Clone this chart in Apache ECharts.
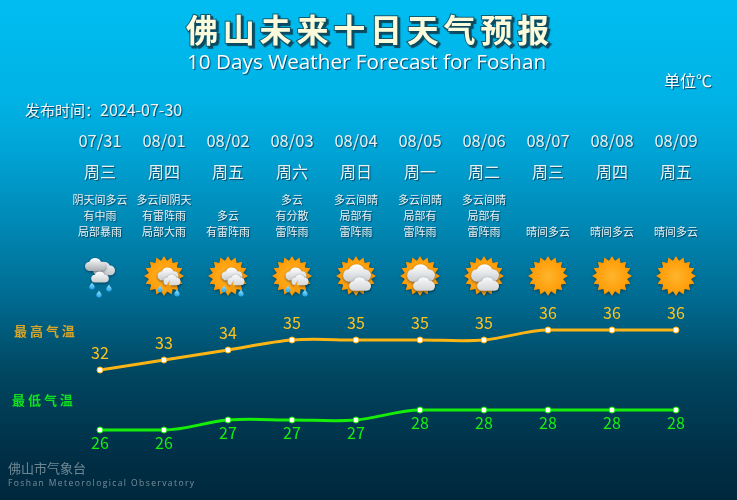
<!DOCTYPE html>
<html><head><meta charset="utf-8">
<style>html,body{margin:0;padding:0;background:#003}#c{width:737px;height:500px}</style>
<script src="https://cdn.jsdelivr.net/npm/echarts@6/dist/echarts.min.js"></script>
</head><body><div id="c"></div>
<script>
const dates=['07/31','08/01','08/02','08/03','08/04','08/05','08/06','08/07','08/08','08/09'];
const weekdays=['周三','周四','周五','周六','周日','周一','周二','周三','周四','周五'];
const descriptions=['阴天间多云\n有中雨\n局部暴雨','多云间阴天\n有雷阵雨\n局部大雨','多云\n有雷阵雨','多云\n有分散\n雷阵雨','多云间晴\n局部有\n雷阵雨','多云间晴\n局部有\n雷阵雨','多云间晴\n局部有\n雷阵雨','晴间多云','晴间多云','晴间多云'];
const iconKinds=['rain','storm','storm','storm','suncloud','suncloud','suncloud','sun','sun','sun'];
const highs=[32,33,34,35,35,35,35,36,36,36];
const lows=[26,26,27,27,27,28,28,28,28,28];
const titleCn='佛山未来十日天气预报';
const titleEn='10 Days Weather Forecast for Foshan';
const footerEn='Foshan Meteorological Observatory';
const CJK='"Noto Sans CJK SC","Noto Sans",sans-serif';
const chart=echarts.init(document.getElementById('c'),null,{renderer:'canvas'});
const spaced=(s,sep)=>s.split('').join(sep);

function star(cx,cy,R,r,n){const p=[];for(let i=0;i<n*2;i++){const a=Math.PI*i/n-Math.PI/2,q=i%2?r:R;p.push([cx+q*Math.cos(a),cy+q*Math.sin(a)]);}return p;}
function sunShape(cx,cy){return {type:'polygon',shape:{points:star(cx,cy,20,15.5,16)},style:{fill:{type:'radial',x:.5,y:.5,r:.5,colorStops:[{offset:0,color:'#ffb52e'},{offset:.75,color:'#ff9f0a'},{offset:1,color:'#f59300'}]},shadowBlur:3,shadowColor:'rgba(0,30,50,.6)',shadowOffsetY:1}};}
function cloud(cx,cy,w,h,top,bot){
  const fill={type:'linear',x:0,y:0,x2:0,y2:1,colorStops:[{offset:0,color:top||'#ffffff'},{offset:1,color:bot||'#c9cdd0'}]};
  return {type:'path',shape:{pathData:'M-10 10 A8 8 0 0 1 -11 -6 A11 11 0 0 1 9 -6 A8 8 0 0 1 10 10 Z',x:cx-w/2,y:cy-h/2,width:w,height:h},style:{fill,shadowBlur:3,shadowColor:'rgba(0,20,40,.55)',shadowOffsetY:1}};
}
function drop(cx,cy){return {type:'path',shape:{pathData:'M0 -4 C1 -2 3 -1 3 1 A3 3 0 0 1 -3 1 C-3 -1 -1 -2 0 -4 Z',x:cx-2.6,y:cy-3.6,width:5.2,height:7.2},style:{fill:{type:'linear',x:0,y:0,x2:0,y2:1,colorStops:[{offset:0,color:'#9fe4ff'},{offset:1,color:'#1fa4e8'}]}}};}
function bolt(cx,cy){return {type:'polygon',shape:{points:[[cx+2,cy-7],[cx-3,cy+1],[cx,cy+1],[cx-2,cy+7],[cx+4,cy-2],[cx+1,cy-2]]},style:{fill:'#f59a10'}};}
function renderIcon(params,api){
  const [x,y]=api.coord([api.value(0),api.value(1)]);
  const k=iconKinds[params.dataIndex],ch=[];
  if(k==='sun'){ch.push(sunShape(x,y));}
  else if(k==='suncloud'){ch.push(sunShape(x,y));ch.push(cloud(x+1,y-3,28,20));ch.push(cloud(x+4,y+8,22,14,'#fbfbfb','#d2d5d7'));}
  else if(k==='storm'){ch.push(sunShape(x,y));ch.push(cloud(x+4,y-2,21,14));ch.push(cloud(x+8,y+4,17,11,'#fafafa','#d5d7d9'));ch.push(bolt(x+4,y+11));ch.push(drop(x-4,y+13));ch.push(drop(x+13,y+17));}
  else{ch.push(cloud(x+4,y-7.5,22,14,'#f4f5f6','#c5c8cb'));ch.push(cloud(x-4.5,y-11.5,21,14,'#ffffff','#a9adb1'));ch.push(cloud(x,y+1,26,11));ch.push(drop(x-8,y+10));ch.push(drop(x-1,y+18));ch.push(drop(x+9,y+12));}
  return {type:'group',children:ch};
}
function renderCurve(color){
  return function(params,api){
    if(params.dataIndex!==0) return {type:'group',children:[]};
    const n=params.dataInsideLength, pts=[];
    for(let i=0;i<n;i++) pts.push(api.coord([api.value(0,i),api.value(1,i)]));
    // tangent: flat along a constant run that touches either end of the line
    const flat=i=>pts.slice(0,i+1).every(p=>p[1]===pts[0][1])||pts.slice(i).every(p=>p[1]===pts[n-1][1]);
    const tan=i=>{
      const a=pts[Math.max(i-1,0)],b=pts[Math.min(i+1,n-1)];
      return [(b[0]-a[0])/6,(i>0&&i<n-1&&flat(i))?0:(b[1]-a[1])/6];
    };
    let d='M'+pts[0][0]+' '+pts[0][1];
    for(let i=0;i<n-1;i++){
      const p1=pts[i],p2=pts[i+1],t1=tan(i),t2=tan(i+1);
      d+=' C'+(p1[0]+t1[0])+' '+(p1[1]+t1[1])+' '+(p2[0]-t2[0])+' '+(p2[1]-t2[1])+' '+p2[0]+' '+p2[1];
    }
    return {type:'path',shape:{pathData:d,layout:'none'},style:{fill:null,stroke:color,lineWidth:3}};
  };
}
const headerAxis=(data,offset,size,lh)=>({type:'category',gridIndex:1,position:'top',offset,data,boundaryGap:false,
  axisLine:{show:false},axisTick:{show:false},splitLine:{show:false},
  axisLabel:{show:true,interval:0,margin:0,fontFamily:CJK,fontSize:size,lineHeight:lh,color:'#eaf1f1',textShadowColor:'rgba(0,40,70,.7)',textShadowBlur:1,textShadowOffsetX:1,textShadowOffsetY:1}});
const t=(text,left,top,style)=>({text,left,top,padding:0,textStyle:Object.assign({fontFamily:CJK,fontWeight:'normal'},style)});
const labelShadow={textShadowColor:'rgba(0,40,70,.8)',textShadowBlur:1,textShadowOffsetX:1,textShadowOffsetY:1};
const titleChars=titleCn.split('').map((c,i)=>t(c,186+i*36.8,14,{fontSize:32,fontWeight:'bold',color:'#fbfbdc',textBorderColor:'#0d5c70',textBorderWidth:2,textShadowColor:'#0a4a60',textShadowBlur:1,textShadowOffsetX:2,textShadowOffsetY:2}));
const curve=(arr,color)=>({type:'custom',xAxisIndex:0,yAxisIndex:0,clip:false,silent:true,z:1,data:arr.map((v,i)=>[i,v]),renderItem:renderCurve(color)});
chart.setOption({
  animation:false,
  backgroundColor:{type:'linear',x:0,y:0,x2:0,y2:1,colorStops:[
    {offset:0,color:'#00bdf1'},{offset:.2,color:'#00b2e5'},{offset:.3,color:'#00a4d6'},{offset:.45,color:'#0088b4'},{offset:.6,color:'#006a90'},{offset:.75,color:'#00455f'},{offset:.92,color:'#002e45'},{offset:1,color:'#00283c'}]},
  title:titleChars.concat([
    t(titleEn,187,53,Object.assign({fontSize:20.7,color:'#ffffff',fontFamily:'"Open Sans",sans-serif'},labelShadow)),
    t('单位℃',664,73,Object.assign({fontSize:16,color:'#ffffff'},labelShadow)),
    {text:'{a|发布时间：}{b|2024-07-30}',left:25,top:102,padding:0,textStyle:{fontWeight:'normal',rich:{a:Object.assign({fontFamily:CJK,fontWeight:'normal',fontSize:15,color:'#f0f4f4'},labelShadow),b:Object.assign({fontFamily:CJK,fontWeight:'normal',fontSize:16,color:'#f0f4f4'},labelShadow)}}},
    t('最 高 气 温',14,325,{fontSize:13,fontWeight:'bold',color:'#d8a528'}),
    t('最 低 气 温',12,394,{fontSize:13,fontWeight:'bold',color:'#10e020'}),
    t('佛山市气象台',8,462,{fontSize:13,color:'rgba(255,255,255,.42)'}),
    t(spaced(footerEn,'\u2009'),8,479,{fontSize:8.5,color:'rgba(255,255,255,.45)',fontFamily:'"Open Sans",sans-serif'})
  ]),
  grid:[{left:100,right:61,top:330,height:100},{left:100,right:61,top:256,height:40}],
  xAxis:[
    {type:'category',gridIndex:0,data:dates,boundaryGap:false,show:false},
    {type:'category',gridIndex:1,data:dates,boundaryGap:false,show:false},
    headerAxis(dates,105,16.5,20),
    headerAxis(weekdays,74,16,20),
    headerAxis(descriptions,16,11,16)
  ],
  yAxis:[
    {type:'value',gridIndex:0,min:26,max:36,interval:2,show:false},
    {type:'value',gridIndex:1,min:0,max:1,show:false}
  ],
  series:[
    curve(highs,'#fcb514'),
    curve(lows,'#14ee08'),
    {type:'line',name:'最高气温',data:highs,xAxisIndex:0,yAxisIndex:0,z:3,symbol:'circle',symbolSize:6,showAllSymbol:true,
     lineStyle:{color:'#fcb514',width:3,opacity:0},itemStyle:{color:'#fff',borderColor:'#fcb514',borderWidth:1},
     label:{show:true,position:'top',distance:6,fontFamily:CJK,fontSize:16,color:'#fcc21e'}},
    {type:'line',name:'最低气温',data:lows,xAxisIndex:0,yAxisIndex:0,z:3,symbol:'circle',symbolSize:6,showAllSymbol:true,
     lineStyle:{color:'#14ee08',width:3,opacity:0},itemStyle:{color:'#fff',borderColor:'#14ee08',borderWidth:1},
     label:{show:true,position:'bottom',distance:1,fontFamily:CJK,fontSize:16,color:'#14f00a'}},
    {type:'custom',xAxisIndex:1,yAxisIndex:1,clip:false,silent:true,data:dates.map((d,i)=>[i,.5]),renderItem:renderIcon},
    {type:'line',xAxisIndex:2,yAxisIndex:1,data:[],silent:true},
    {type:'line',xAxisIndex:3,yAxisIndex:1,data:[],silent:true},
    {type:'line',xAxisIndex:4,yAxisIndex:1,data:[],silent:true}
  ]
});
</script></body></html>
